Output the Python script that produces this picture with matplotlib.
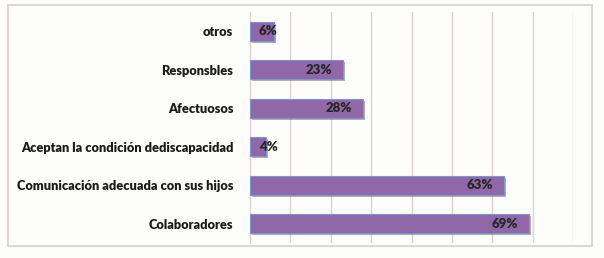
import matplotlib.pyplot as plt
import matplotlib.patches as patches
import matplotlib.patheffects as pe

categorias = ['otros', 'Responsbles', 'Afectuosos', 'Aceptan la condición dediscapacidad',
              'Comunicación adecuada con sus hijos', 'Colaboradores']
porcentajes = [6, 23, 28, 4, 63, 69]
etiquetas = ['6%', '23%', '28%', '4%', '63%', '69%']

plt.rcParams['font.family'] = ['Lato', 'DejaVu Sans']

fig = plt.figure(figsize=(6.04, 2.58), dpi=100)
fig.patch.set_facecolor('#fdfdfb')

# marco exterior gris claro
fig.patches.append(patches.Rectangle((8 / 604, 1 - 246 / 258), 584 / 604, 241 / 258,
                                     transform=fig.transFigure, fill=False,
                                     edgecolor='#d8d0cc', linewidth=1.2))

ax = fig.add_axes([250 / 604, 1 - 243 / 258, 323 / 604, 231 / 258])
ax.set_facecolor('none')

y = list(range(len(categorias)))
bars = ax.barh(y, porcentajes, height=0.5, color='#9068a8', edgecolor='#7f93cc',
               linewidth=0.8, zorder=3)
for b in bars:
    b.set_path_effects([pe.SimplePatchShadow(offset=(1.5, -1.5), alpha=0.35), pe.Normal()])

for v, yy, t in zip(porcentajes, y, etiquetas):
    ax.text(max(v - 2.7, 6.9), yy, t, ha='right', va='center', fontsize=9.5,
            fontweight='heavy', color='#262626', zorder=4)

ax.set_xlim(0, 80)
ax.set_ylim(len(categorias) - 0.5, -0.5)
ax.set_xticks(range(10, 81, 10))
ax.xaxis.grid(True, color='#ddd2d0', linewidth=1.0, zorder=0)
ax.tick_params(axis='x', length=0, labelbottom=False)
ax.set_yticks(y)
ax.set_yticklabels(categorias, fontsize=9.2, fontweight='heavy', color='#1a1a1a')
ax.tick_params(axis='y', length=0, pad=12)
for s in ['top', 'right', 'bottom']:
    ax.spines[s].set_visible(False)
ax.spines['left'].set_color('#ddd2d0')
ax.spines['left'].set_linewidth(1.0)

fig.savefig('out.png', dpi=100, facecolor=fig.get_facecolor())
